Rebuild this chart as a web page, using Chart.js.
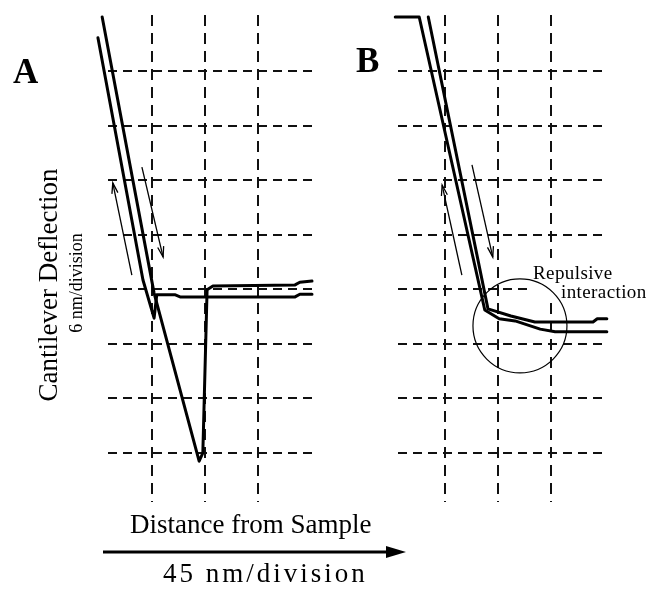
<!DOCTYPE html>
<html>
<head>
<meta charset="utf-8">
<script src="https://cdn.jsdelivr.net/npm/chart.js@4.4.0/dist/chart.umd.min.js"></script>
<style>
  body{margin:0;background:#fff;}
  #wrap{position:relative;width:649px;height:589px;overflow:hidden;}
  canvas{position:absolute;top:0;}
  #chartA{left:0;}
  #chartB{left:330px;}
</style>
</head>
<body>
<div id="wrap">
  <canvas id="chartA" width="649" height="589"></canvas>
  <canvas id="chartB" width="319" height="589"></canvas>
</div>
<script>
// everything is in grid divisions (x: 45 nm/div, y: 6 nm/div)
const xTicks = [1, 2, 3];
const yTicks = [0, 1, 2, 3, 4, 5, 6, 7];

// panel A - retract trace with the adhesion dip
const retractAx = [0.06, 1.04, 1.89, 1.96, 2.04, 2.15, 3.70, 3.79, 4.02];
const retractAy = [7.99, 2.93, -0.15, 0.00, 2.99, 3.06, 3.08, 3.13, 3.15];
// panel A - approach trace
const approachAx = [-0.02, 0.83, 1.04, 1.09, 1.43, 1.53, 3.70, 3.79, 4.02];
const approachAy = [7.61, 3.17, 2.47, 2.90, 2.90, 2.86, 2.86, 2.91, 2.91];
// panel A - direction arrows (tail, head)
const arrowUpAx = [0.62, 0.26];
const arrowUpAy = [3.26, 4.95];
const arrowDownAx = [0.81, 1.21];
const arrowDownAy = [5.24, 3.59];

// panel B - retract trace
const retractBx = [0.69, 1.81, 2.24, 2.69, 3.78, 3.86, 4.04];
const retractBy = [7.99, 2.64, 2.51, 2.40, 2.40, 2.46, 2.46];
// panel B - approach trace (starts on the flat top)
const approachBx = [0.07, 0.52, 1.75, 2.02, 2.32, 2.79, 3.07, 4.04];
const approachBy = [7.99, 7.99, 2.62, 2.46, 2.42, 2.27, 2.22, 2.22];
// panel B arrows
const arrowUpBx = [1.32, 0.95];
const arrowUpBy = [3.26, 4.91];
const arrowDownBx = [1.51, 1.90];
const arrowDownBy = [5.28, 3.59];
// repulsive interaction circle centre
const circleBx = [2.41];
const circleBy = [2.33];
const noteLines = ['Repulsive', 'interaction'];

function pts(xs, ys) {
    return xs.map(function (x, i) { return { x: x, y: ys[i] }; });
}

function trace(xs, ys) {
    return { data: pts(xs, ys), showLine: true, borderColor: '#000', borderWidth: 3,
        pointRadius: 0, borderJoinStyle: 'round', borderCapStyle: 'round', clip: false };
}

function arrow(xs, ys) {
    return { data: pts(xs, ys), showLine: true, borderColor: '#000', borderWidth: 1.3,
        pointRadius: 0, clip: false, arrow: true };
}

// open arrow head at the last point of datasets flagged with arrow:true
const arrowHeads = {
    id: 'arrowHeads',
    afterDatasetsDraw(chart) {
        const ctx = chart.ctx;
        chart.data.datasets.forEach(function (ds, i) {
            if (!ds.arrow) return;
            const p = chart.getDatasetMeta(i).data;
            const a = p[p.length - 1], b = p[p.length - 2];
            const ang = Math.atan2(a.y - b.y, a.x - b.x);
            ctx.save();
            ctx.strokeStyle = '#000';
            ctx.lineWidth = 1.3;
            ctx.beginPath();
            ctx.moveTo(a.x - 11 * Math.cos(ang - 0.28), a.y - 11 * Math.sin(ang - 0.28));
            ctx.lineTo(a.x, a.y);
            ctx.lineTo(a.x - 11 * Math.cos(ang + 0.28), a.y - 11 * Math.sin(ang + 0.28));
            ctx.stroke();
            ctx.restore();
        });
    }
};

// "Repulsive interaction" note, its white box hides the grid behind it
const note = {
    id: 'note',
    beforeDatasetsDraw(chart) {
        const ctx = chart.ctx;
        ctx.save();
        ctx.fillStyle = '#fff';
        ctx.fillRect(197, 258, 90, 44);
        ctx.fillStyle = '#000';
        ctx.font = '19px "Liberation Serif"';
        ctx.letterSpacing = '0.4px';
        ctx.fillText(noteLines[0], 203, 279);
        ctx.fillText(noteLines[1], 231, 298);
        ctx.restore();
    }
};

// labels of the whole figure, drawn on the left canvas (it covers the page)
const pageText = {
    id: 'pageText',
    afterDraw(chart) {
        const ctx = chart.ctx;
        ctx.save();
        ctx.fillStyle = '#000';
        ctx.font = 'bold 35px "Liberation Serif"';
        ctx.fillText('A', 13, 83);
        ctx.fillText('B', 356, 72);

        ctx.save();
        ctx.translate(57, 285);
        ctx.rotate(-Math.PI / 2);
        ctx.textAlign = 'center';
        ctx.font = '27px "Liberation Serif"';
        ctx.fillText('Cantilever Deflection', 0, 0);
        ctx.restore();

        ctx.save();
        ctx.translate(82, 283);
        ctx.rotate(-Math.PI / 2);
        ctx.textAlign = 'center';
        ctx.font = '18px "Liberation Serif"';
        ctx.fillText('6 nm/division', 0, 0);
        ctx.restore();

        ctx.font = '27px "Liberation Serif"';
        ctx.fillText('Distance from Sample', 130, 533);
        ctx.letterSpacing = '3px';
        ctx.fillText('45 nm/division', 163, 582);
        ctx.letterSpacing = '0px';

        // distance arrow
        ctx.strokeStyle = '#000';
        ctx.lineWidth = 3;
        ctx.beginPath();
        ctx.moveTo(103, 552);
        ctx.lineTo(390, 552);
        ctx.stroke();
        ctx.beginPath();
        ctx.moveTo(406, 552);
        ctx.lineTo(386, 546);
        ctx.lineTo(386, 558);
        ctx.closePath();
        ctx.fill();
        ctx.restore();
    }
};

function gridScale(min, max, ticks, dash) {
    return {
        type: 'linear', min: min, max: max,
        afterBuildTicks: function (s) { s.ticks = ticks.map(function (v) { return { value: v }; }); },
        ticks: { display: false },
        grid: { color: '#111', lineWidth: 2, drawTicks: false },
        border: { display: false, dash: dash }
    };
}

function makeChart(id, datasets, xmin, xmax, pad, plugins) {
    return new Chart(document.getElementById(id), {
        type: 'scatter',
        data: { datasets: datasets },
        options: {
            responsive: false, animation: false, devicePixelRatio: 1, events: [],
            layout: { padding: pad, autoPadding: false },
            plugins: { legend: { display: false }, tooltip: { enabled: false } },
            scales: {
                x: gridScale(xmin, xmax, xTicks, [11, 7]),
                y: gridScale(-0.898, 8.026, yTicks, [9, 6])
            }
        },
        plugins: plugins
    });
}

makeChart('chartA', [
    trace(retractAx, retractAy),
    trace(approachAx, approachAy),
    arrow(arrowUpAx, arrowUpAy),
    arrow(arrowDownAx, arrowDownAy)
], 0.17, 4.02, { left: 108, right: 337, top: 15, bottom: 87 }, [arrowHeads, pageText]);

makeChart('chartB', [
    trace(retractBx, retractBy),
    trace(approachBx, approachBy),
    arrow(arrowUpBx, arrowUpBy),
    arrow(arrowDownBx, arrowDownBy),
    { data: pts(circleBx, circleBy), pointRadius: 47, pointBorderWidth: 1.2, pointBorderColor: '#000',
      pointBackgroundColor: 'rgba(0,0,0,0)', clip: false }
], 0.122, 4.043, { left: 68, right: 42, top: 15, bottom: 87 }, [arrowHeads, note]);
</script>
</body>
</html>
